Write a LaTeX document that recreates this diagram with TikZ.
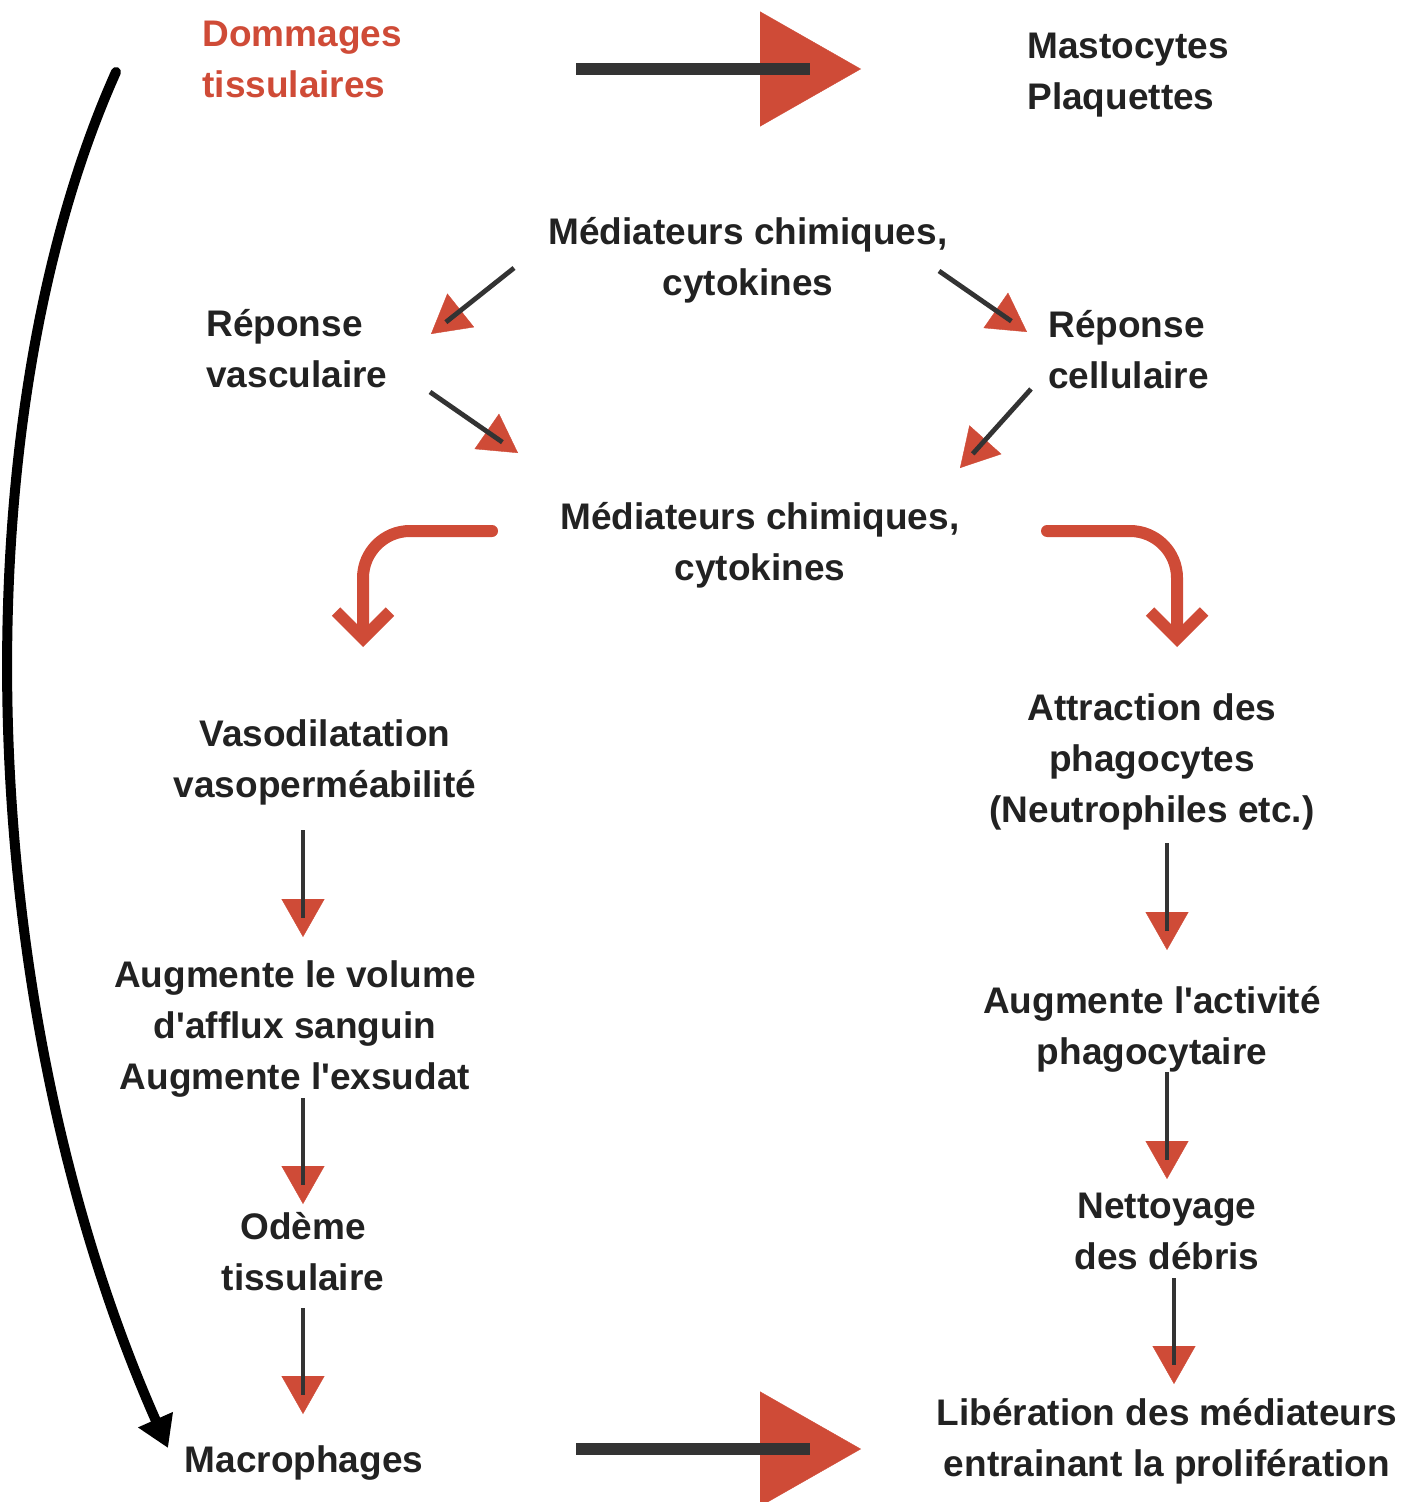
\documentclass[tikz,border=0pt]{standalone}
\usepackage{fontspec}
\setmainfont{Liberation Sans}
\usepackage{tikz}
\usetikzlibrary{arrows.meta}
\definecolor{tipred}{HTML}{CF4B37}
\definecolor{linegray}{HTML}{333333}
\definecolor{inkdark}{HTML}{222222}

\begin{document}
\begin{tikzpicture}[
  x=0.5pt, y=-0.5pt,
  txt/.style={font=\fontsize{18.5}{25.5}\selectfont\bfseries, text=inkdark, inner sep=0pt, align=center, anchor=base},
  txtleft/.style={txt, align=left, anchor=base west},
  arrow/.style={draw=linegray, line width=2.4pt, shorten >=9.5pt,
    preaction={draw=tipred, line width=0.2pt, shorten >=0pt, -{Triangle[length=19pt, width=21.5pt]}}},
  bigarrow/.style={draw=linegray, line width=6pt, shorten >=25.5pt,
    preaction={draw=tipred, line width=0.2pt, shorten >=0pt, -{Triangle[length=50.5pt, width=57.5pt]}}},
  turn/.style={draw=tipred, line width=6pt, line cap=round, rounded corners=23.5pt,
    -{Straight Barb[length=13.5pt, width=27pt]}},
  loop/.style={draw=black, line width=5pt, line cap=round, -{Triangle[length=15.5pt, width=18pt]}}
]
\useasboundingbox (0,0) rectangle (1416,1502);

% Nodes (base = last line)
\node[txtleft, text=tipred] (damage) at (202,98) {Dommages\\tissulaires};
\node[txtleft] (mast) at (1027,110) {Mastocytes\\Plaquettes};
\node[txt] (med1) at (748,296) {Médiateurs chimiques,\\cytokines};
\node[txtleft] (vasc) at (206,388) {Réponse\\vasculaire};
\node[txtleft] (cell) at (1048,389) {Réponse\\cellulaire};
\node[txt] (med2) at (760,580) {Médiateurs chimiques,\\cytokines};
\node[txt] (vaso) at (325,797) {Vasodilatation\\vasoperméabilité};
\node[txt] (volume) at (295,1089) {Augmente le volume\\d\textquotesingle afflux sanguin\\Augmente l\textquotesingle exsudat};
\node[txt] (oedeme) at (303,1290) {Odème\\tissulaire};
\node[txt] (macro) at (304,1472) {Macrophages};
\node[txt] (attract) at (1152,822) {Attraction des\\phagocytes\\(Neutrophiles etc.)};
\node[txt] (activ) at (1152,1064) {Augmente l\textquotesingle activité\\phagocytaire};
\node[txt] (clean) at (1167,1269) {Nettoyage\\des débris};
\node[txt] (release) at (1167,1476) {Libération des médiateurs\\entrainant la prolifération};

% Arrow ends
\coordinate (d1) at (576,69);    \coordinate (m1) at (861,69);
\coordinate (q1) at (576,1449);  \coordinate (r1) at (861,1449);
\coordinate (a1) at (514,268);   \coordinate (b1) at (431,334);
\coordinate (a2) at (430,392);   \coordinate (b2) at (518,453);
\coordinate (a3) at (939,271);   \coordinate (b3) at (1027,332);
\coordinate (a4) at (1031,389);  \coordinate (b4) at (960,468);
\coordinate (a5) at (303,830);   \coordinate (b5) at (303,937);
\coordinate (a6) at (303,1098);  \coordinate (b6) at (303,1204);
\coordinate (a7) at (303,1308);  \coordinate (b7) at (303,1414);
\coordinate (a8) at (1167,843);  \coordinate (b8) at (1167,950);
\coordinate (a9) at (1167,1072); \coordinate (b9) at (1167,1179);
\coordinate (a10) at (1174,1278); \coordinate (b10) at (1174,1384);
\coordinate (t1) at (492,531);   \coordinate (u1) at (363,647);
\coordinate (t2) at (1047,531);  \coordinate (u2) at (1177,647);
\coordinate (c1) at (116,72);    \coordinate (c2) at (168,1448);

% Big arrows
\draw[bigarrow] (d1) -- (m1);
\draw[bigarrow] (q1) -- (r1);

% Small arrows
\foreach \i in {1,...,10}
  \draw[arrow] (a\i) -- (b\i);

% Turning arrows
\draw[turn] (t1) -| (u1);
\draw[turn] (t2) -| (u2);

% Long loop
\draw[loop] (c1) .. controls (-40,420) and (-30,1000) .. (c2);

\end{tikzpicture}
\end{document}
